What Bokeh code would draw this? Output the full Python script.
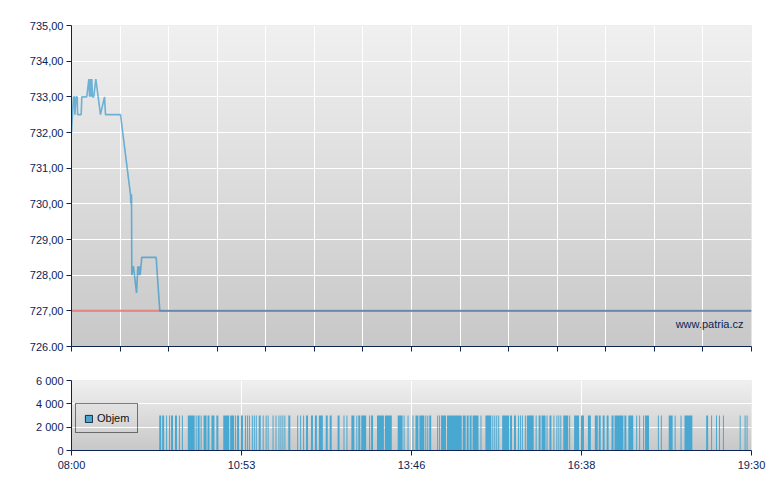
import numpy as np
from bokeh.plotting import figure
from bokeh.layouts import column
from bokeh.models import Range1d, FixedTicker, Label, Legend, LegendItem
from bokeh.embed import file_html
from bokeh.resources import INLINE

# ---------------- data ----------------
# minutes after 08:00
price_minutes = [0, 2, 3, 3.4, 4.8, 5.8, 6.2, 9.8, 10.5, 15.5, 17.6, 18.3, 19.3, 20, 20.6,
                 21.3, 22.6, 24.7, 29.4, 33.5, 34.5, 49.7, 59.9, 60.2, 60.5, 60.9, 61.2,
                 62.9, 63.9, 66, 67.3, 68, 69, 69.7, 71.3, 85.9, 89.6, 690]
price_values = [732.0, 733.0, 733.0, 732.5, 733.0, 733.0, 732.5, 732.5, 733.0, 733.0, 733.5,
                733.0, 733.5, 733.0, 733.5, 733.0, 733.0, 733.5, 732.5, 733.0, 732.5, 732.5,
                730.25, 730.0, 730.25, 730.25, 728.0, 728.25, 728.0, 727.5, 728.25, 728.0,
                728.25, 728.0, 728.5, 728.5, 727.0, 727.0]
prev_close = 727.0
session = [0, 690]

price_ticks = [726, 727, 728, 729, 730, 731, 732, 733, 734, 735]
price_tick_labels = ["726.00", "727,00", "728,00", "729,00", "730,00",
                     "731,00", "732,00", "733,00", "734,00", "735,00"]
time_ticks = [0, 172.5, 345, 517.5, 690]
time_tick_labels = ["08:00", "10:53", "13:46", "16:38", "19:30"]

vol_start = [89, 92, 96, 99, 101, 105, 109, 112, 118, 126,
             128, 131, 134, 138, 142, 147, 154, 161, 166, 168,
             172, 176, 178, 180, 183, 185, 187, 190, 194, 197,
             199,
             204, 207, 210, 212, 214, 216, 220, 229, 232, 235,
             238, 243, 247, 251, 258, 262, 270, 276, 279, 284,
             289, 291, 294, 302, 304, 310, 318,
             331, 337, 341, 346, 349, 353, 359, 361, 363, 371,
             373, 375, 381, 397, 401, 404, 407, 415, 420, 427,
             429, 431, 433, 437,
             445, 449, 453, 455, 457, 460, 462, 471, 474, 477,
             482, 485, 489, 492, 494, 496, 499, 505, 510, 517,
             524, 531, 535, 539, 543, 548, 551,
             561, 565, 573, 576, 580, 582, 595, 598, 606, 612,
             618, 622, 644, 649, 654, 657, 661, 678, 683, 685]
vol_end = [91, 94, 97, 100, 103, 107, 110, 113, 125, 127,
           130, 132, 137, 140, 145, 149, 160, 165, 167, 170,
           174, 177, 179, 181, 184, 186, 188, 192, 195, 198,
           200,
           205, 208, 211, 213, 215, 217, 222, 230, 233, 236,
           240, 245, 249, 255, 260, 264, 272, 277, 280, 287,
           290, 293, 299, 303, 306, 317, 325,
           336, 338, 342, 347, 352, 358, 360, 362, 365, 372,
           374, 380, 396, 400, 403, 406, 413, 416, 426, 428,
           430, 432, 434, 444,
           447, 451, 454, 456, 458, 461, 469, 472, 476, 481,
           483, 487, 490, 493, 495, 497, 504, 506, 515, 520,
           527, 534, 537, 541, 545, 550, 560,
           563, 570, 574, 577, 581, 586, 596, 599, 610, 613,
           619, 630, 646, 650, 655, 658, 662, 679, 684, 686]
vol_value = [3000, 3000, 3000, 3000, 3000, 3000, 3000, 3000, 3000, 3000,
             3000, 3000, 3000, 3000, 3000, 3000, 3000, 3000, 3000, 3000,
             3000, 3000, 3000, 3000, 3000, 3000, 3000, 3000, 3000, 3000,
             3000,
             3000, 3000, 3000, 3000, 3000, 3000, 3000, 3000, 3000, 3000,
             3000, 3000, 3000, 3000, 3000, 3000, 3000, 3000, 3000, 3000,
             3000, 3000, 3000, 3000, 3000, 3000, 3000,
             3000, 3000, 3000, 3000, 3000, 3000, 3000, 3000, 3000, 3000,
             3000, 3000, 3000, 3000, 3000, 3000, 3000, 3000, 3000, 3000,
             3000, 3000, 3000, 3000,
             3000, 3000, 3000, 3000, 3000, 3000, 3000, 3000, 3000, 3000,
             3000, 3000, 3000, 3000, 3000, 3000, 3000, 3000, 3000, 3000,
             3000, 3000, 3000, 3000, 3000, 3000, 3000,
             3000, 3000, 3000, 3000, 3000, 3000, 3000, 3000, 3000, 3000,
             3000, 3000, 3000, 3000, 3000, 3000, 3000, 3000, 3000, 3000]
vol_ticks = [0, 2000, 4000, 6000]
vol_tick_labels = ["0", "2 000", "4 000", "6 000"]
legend_label = "Objem"
watermark = "www.patria.cz"

assert len(vol_start) == len(vol_end) == len(vol_value)

# ---------------- style ----------------
NAVY = "#0b2454"
FONT = "Liberation Sans"
BLUE = "#48a8d2"


def gradient_image(top_rgb, bottom_rgb, n=200):
    img = np.empty((n, 1), dtype=np.uint32)
    view = img.view(dtype=np.uint8).reshape((n, 1, 4))
    for i in range(n):
        t = i / (n - 1)
        for c in range(3):
            view[i, 0, c] = int(round(bottom_rgb[c] + (top_rgb[c] - bottom_rgb[c]) * t))
        view[i, 0, 3] = 255
    return img


def style_axes(p):
    for ax in p.xaxis + p.yaxis:
        ax.axis_line_color = NAVY
        ax.axis_line_width = 1
        ax.major_tick_line_color = NAVY
        ax.major_tick_out = 5
        ax.major_tick_in = 0
        ax.minor_tick_line_color = None
        ax.major_label_text_color = NAVY
        ax.major_label_text_font = FONT
        ax.major_label_text_font_size = "11px"
        ax.major_label_standoff = 3


# ---------------- price chart ----------------
p1 = figure(width=768, height=360, output_backend="svg", toolbar_location=None,
            x_range=Range1d(session[0], session[1]),
            y_range=Range1d(price_ticks[0], price_ticks[-1]),
            min_border_left=71, min_border_right=17, min_border_top=25, min_border_bottom=14)
p1.outline_line_color = None
p1.background_fill_color = "#dddddd"
p1.border_fill_color = "white"

y0, y1 = price_ticks[0], price_ticks[-1]
p1.image_rgba(image=[gradient_image((240, 240, 240), (200, 200, 200))],
              x=session[0], y=y0, dw=session[1] - session[0], dh=y1 - y0, level="image")

grid_x = [session[0] + i * (session[1] - session[0]) / 14 for i in range(15)]
x_ticker = FixedTicker(ticks=[], minor_ticks=grid_x)
p1.xaxis.ticker = x_ticker
p1.xgrid.ticker = x_ticker
p1.yaxis.ticker = FixedTicker(ticks=price_ticks)
p1.yaxis.major_label_overrides = {t: l for t, l in zip(price_ticks, price_tick_labels)}
p1.xgrid.grid_line_color = None
p1.xgrid.minor_grid_line_color = "white"
p1.xgrid.minor_grid_line_width = 1
p1.ygrid.grid_line_color = "white"
p1.ygrid.grid_line_width = 1

p1.line(x=session, y=[prev_close, prev_close], line_color="#e27070", line_width=2, line_alpha=0.85)
p1.line(x=price_minutes, y=price_values, line_color="#1a8cc8", line_width=1.6, line_alpha=0.6)

style_axes(p1)
p1.xaxis.minor_tick_line_color = NAVY
p1.xaxis.minor_tick_out = 5
p1.xaxis.minor_tick_in = 0

p1.add_layout(Label(x=681.9, y=726.64, text=watermark, text_align="right",
                    text_baseline="middle", text_font=FONT, text_font_size="11px",
                    text_color=NAVY))

# ---------------- volume chart ----------------
p2 = figure(width=768, height=120, output_backend="svg", toolbar_location=None,
            x_range=Range1d(session[0], session[1]),
            y_range=Range1d(vol_ticks[0], vol_ticks[-1]),
            min_border_left=71, min_border_right=17, min_border_top=20, min_border_bottom=30)
p2.outline_line_color = None
p2.background_fill_color = "#dddddd"
p2.border_fill_color = "white"
v0, v1 = vol_ticks[0], vol_ticks[-1]
p2.image_rgba(image=[gradient_image((240, 240, 240), (200, 200, 200))],
              x=session[0], y=v0, dw=session[1] - session[0], dh=v1 - v0, level="image")

p2.xaxis.ticker = FixedTicker(ticks=time_ticks)
p2.xaxis.major_label_overrides = {t: l for t, l in zip(time_ticks, time_tick_labels)}
p2.yaxis.ticker = FixedTicker(ticks=vol_ticks)
p2.yaxis.major_label_overrides = {t: l for t, l in zip(vol_ticks, vol_tick_labels)}
p2.xgrid.grid_line_color = "white"
p2.ygrid.grid_line_color = "white"
p2.xgrid.grid_line_width = 1
p2.ygrid.grid_line_width = 1

p2.quad(left=vol_start, right=vol_end, bottom=0, top=vol_value,
        fill_color=BLUE, line_color=None)
nan = float("nan")
legend_swatch = p2.quad(left=[nan], right=[nan], bottom=[nan], top=[nan],
                        fill_color=BLUE, line_color="#1a2a40", line_width=1)

style_axes(p2)

legend = Legend(items=[LegendItem(label=legend_label, renderers=[legend_swatch])],
                location=(4, 17), orientation="vertical",
                border_line_color="black", border_line_width=1,
                background_fill_alpha=0, padding=8, margin=0, spacing=0,
                glyph_width=9, glyph_height=9, label_standoff=4,
                label_height=12, label_text_font=FONT, label_text_font_size="11px",
                label_text_color="#111111")
p2.add_layout(legend, "center")

layout = column(p1, p2, spacing=0)

open("out.html", "w").write(file_html(layout, INLINE))
